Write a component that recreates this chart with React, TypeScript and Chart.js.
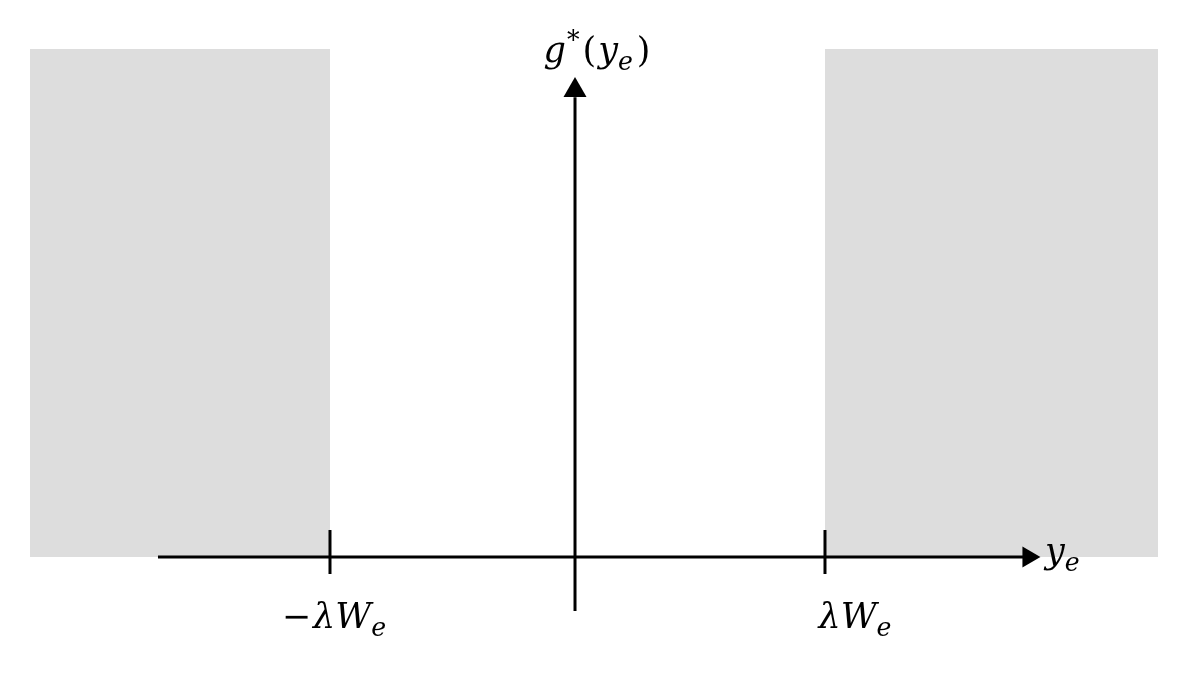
import React, { useEffect, useRef } from "react";
import { Chart, registerables } from "chart.js";

Chart.register(...registerables);

// ---- data (units: λW_e = 1 horizontally, shaded height = 1 vertically) ----
const xBounds = [-2.3333, 2.5152];
const yBounds = [-0.2323, 1.0965];
const shadeLeft = [-2.2121, -1];
const shadeRight = [1, 2.3455];
const shadeTop = 1;
const xAxisSpan = [-1.695, 1.80];
const xArrowAt = 1.822;
const yAxisX = -0.01;
const yAxisSpan = [-0.1063, 0.905];
const yArrowAt = 0.9187;
const tickValues = [-1, 1];
const tickSpan = [-0.0335, 0.0531];

type Seg = { t: string; it?: boolean; pos?: "sub" | "sup"; gap?: number };
const tickLabels: Seg[][] = [
  [{ t: "−", gap: 2 }, { t: "λW", it: true }, { t: "e", it: true, pos: "sub" }],
  [{ t: "λW", it: true }, { t: "e", it: true, pos: "sub" }],
];
const tickLabelAnchors = [
  { x: -0.984, y: -0.1398, align: "center" },
  { x: 1.1212, y: -0.1398, align: "center" },
];
const xAxisTitle: Seg[] = [{ t: "y", it: true }, { t: "e", it: true, pos: "sub" }];
const xAxisTitleAnchor = { x: 1.889, y: -0.0118, align: "left" };
const yAxisTitle: Seg[] = [
  { t: "g", it: true, gap: 1 },
  { t: "*", pos: "sup", gap: 3 },
  { t: "(", gap: 2 },
  { t: "y", it: true },
  { t: "e", it: true, pos: "sub", gap: 4 },
  { t: ")" },
];
const yAxisTitleAnchor = { x: 0.0788, y: 0.9744, align: "center" };

const FONT = "'DejaVu Serif'";
const SIZE = 35;

function fontFor(s: Seg) {
  const size = s.pos ? SIZE * 0.72 : SIZE;
  return `${s.it ? "italic " : ""}${size}px ${FONT}`;
}

function drawMath(ctx: CanvasRenderingContext2D, segs: Seg[], px: number, py: number, align: string) {
  let total = 0;
  const widths = segs.map((s) => {
    ctx.font = fontFor(s);
    const w = ctx.measureText(s.t).width + (s.gap || 0);
    total += w;
    return w;
  });
  let x = align === "center" ? px - total / 2 : px;
  ctx.textBaseline = "alphabetic";
  ctx.textAlign = "left";
  ctx.fillStyle = "#000";
  segs.forEach((s, i) => {
    ctx.font = fontFor(s);
    let y = py;
    if (s.pos === "sub") y += SIZE * 0.22;
    if (s.pos === "sup") y -= SIZE * 0.38;
    ctx.fillText(s.t, x, y);
    x += widths[i];
  });
}

const labelPlugin = {
  id: "mathLabels",
  afterDatasetsDraw(chart: any) {
    const { ctx, scales } = chart;
    const xs = scales.x, ys = scales.y;
    ctx.save();
    tickLabels.forEach((segs, i) => {
      const a = tickLabelAnchors[i];
      drawMath(ctx, segs, xs.getPixelForValue(a.x), ys.getPixelForValue(a.y), a.align);
    });
    drawMath(ctx, xAxisTitle, xs.getPixelForValue(xAxisTitleAnchor.x), ys.getPixelForValue(xAxisTitleAnchor.y), xAxisTitleAnchor.align);
    drawMath(ctx, yAxisTitle, xs.getPixelForValue(yAxisTitleAnchor.x), ys.getPixelForValue(yAxisTitleAnchor.y), yAxisTitleAnchor.align);
    ctx.restore();
  },
};

export default function App() {
  const ref = useRef<HTMLCanvasElement>(null);
  useEffect(() => {
    if (!ref.current) return;
    const lineBase = {
      type: "line" as const,
      borderColor: "#000",
      borderWidth: 3,
      pointRadius: 0,
      borderCapStyle: "butt",
      fill: false,
      order: 1,
      clip: false,
    };
    const shade = (r: number[]) => ({
      type: "line" as const,
      data: [
        { x: r[0], y: shadeTop },
        { x: r[1], y: shadeTop },
      ],
      borderColor: "rgba(0,0,0,0)",
      borderWidth: 0,
      backgroundColor: "#DDDDDD",
      pointRadius: 0,
      fill: "origin",
      order: 10,
      clip: false,
    });
    const chart = new Chart(ref.current, {
      type: "line",
      data: {
        datasets: [
          shade(shadeLeft) as any,
          shade(shadeRight) as any,
          {
            ...lineBase,
            data: [
              { x: xAxisSpan[0], y: 0 },
              { x: xAxisSpan[1], y: 0 },
            ],
          } as any,
          {
            ...lineBase,
            data: [
              { x: yAxisX, y: yAxisSpan[0] },
              { x: yAxisX, y: yAxisSpan[1] },
            ],
          } as any,
          ...tickValues.map(
            (v) =>
              ({
                ...lineBase,
                data: [
                  { x: v, y: tickSpan[0] },
                  { x: v, y: tickSpan[1] },
                ],
              }) as any
          ),
          {
            type: "scatter",
            data: [{ x: xArrowAt, y: 0 }],
            pointStyle: "triangle",
            pointRadius: 12,
            rotation: 90,
            backgroundColor: "#000",
            borderColor: "#000",
            borderWidth: 0,
            order: 0,
            clip: false,
          } as any,
          {
            type: "scatter",
            data: [{ x: yAxisX, y: yArrowAt }],
            pointStyle: "triangle",
            pointRadius: 13.3,
            rotation: 0,
            backgroundColor: "#000",
            borderColor: "#000",
            borderWidth: 0,
            order: 0,
            clip: false,
          } as any,
        ],
      },
      options: {
        responsive: false,
        animation: false,
        events: [],
        layout: { padding: 0, autoPadding: false },
        plugins: { legend: { display: false }, tooltip: { enabled: false } },
        scales: {
          x: { type: "linear", min: xBounds[0], max: xBounds[1], display: false },
          y: { type: "linear", min: yBounds[0], max: yBounds[1], display: false },
        },
      },
      plugins: [labelPlugin],
    });
    return () => chart.destroy();
  }, []);
  return (
    <div style={{ position: "fixed", left: 0, top: 0, width: 1200, height: 675, background: "#fff" }}>
      <canvas ref={ref} width={1200} height={675} style={{ display: "block" }} />
    </div>
  );
}
